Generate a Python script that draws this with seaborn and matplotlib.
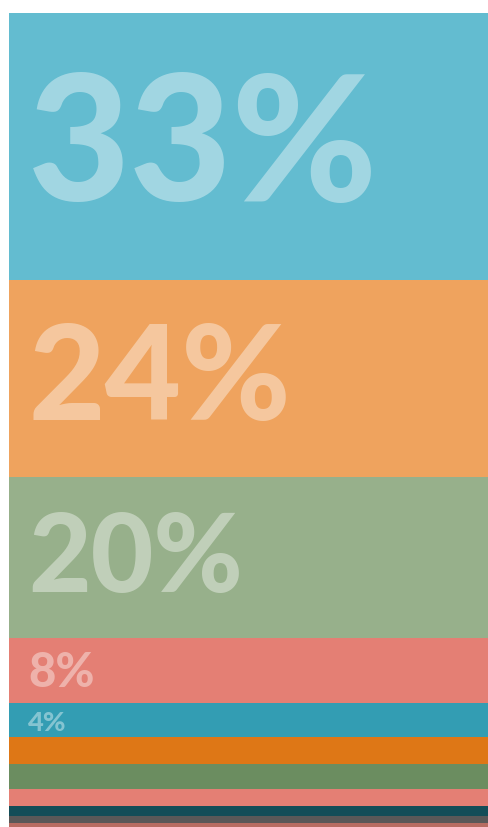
import seaborn as sns
import matplotlib.pyplot as plt
import pandas as pd

# share of each band, top to bottom (percent)
kategorie = ["A", "B", "C", "D", "E", "F", "G", "H", "I", "J", "K"]
udzial = [32.8, 24.3, 19.7, 8.0, 4.2, 3.3, 3.1, 2.1, 1.2, 0.9, 0.5]
kolory = ["#63bcd0", "#efa35e", "#97b08b", "#e47f74", "#339db3", "#de7716",
          "#6b8d60", "#e47f74", "#134d58", "#5a5858", "#b86c62"]

dane = pd.DataFrame({"kat": kategorie, "udzial": udzial, "x": 0.5})

sns.set_style("white")
plt.rcParams['font.family'] = ['Lato', 'DejaVu Sans']

fig = plt.figure(figsize=(4.89, 8.28), dpi=100)
ax = fig.add_axes([9 / 489, 0, 1 - 9 / 489, 814 / 828])

sns.histplot(data=dane, x="x", weights="udzial", hue="kat", hue_order=kategorie,
             multiple="stack", bins=1, binrange=(0, 1), palette=kolory,
             alpha=1, linewidth=0, legend=False, ax=ax)

ax.set_xlim(0, 1)
ax.set_ylim(0, sum(udzial))
ax.axis("off")

# labels: position from the stacked bars themselves
for p in ax.patches:
    h = p.get_height()
    if h < 4:
        continue
    yc = p.get_y() + h / 2 - 0.3
    ax.text(0.04, yc, f"{round(h)}%", color="white", alpha=0.4,
            fontsize=3.75 * h + 4, fontweight="black", ha="left", va="center")

plt.savefig("out.png", dpi=100)
